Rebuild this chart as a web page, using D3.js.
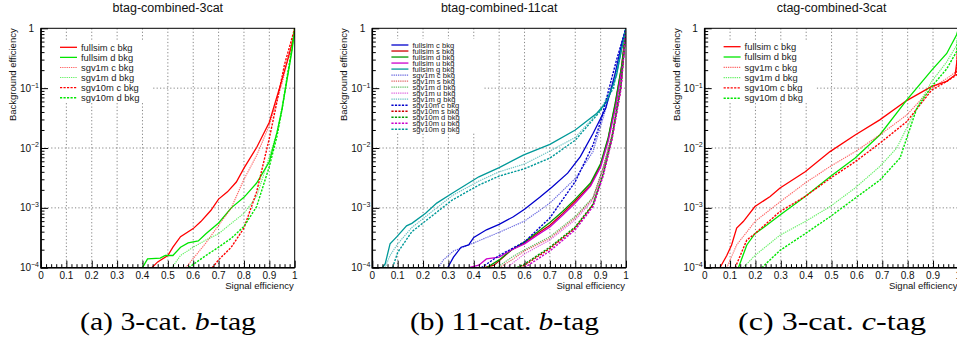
<!DOCTYPE html>
<html>
<head>
<meta charset="utf-8">
<script src="https://cdn.jsdelivr.net/npm/d3@7"></script>
<style>
  body { margin: 0; background: #fff; }
  svg { display: block; }
</style>
</head>
<body>
<div id="chart"></div>
<script>
// ---- axis ticks ----
const xMajor = [0, 0.1, 0.2, 0.3, 0.4, 0.5, 0.6, 0.7, 0.8, 0.9, 1];
const xTickLabels = ["0", "0.1", "0.2", "0.3", "0.4", "0.5", "0.6", "0.7", "0.8", "0.9", "1"];
const yMajor = [1e-4, 1e-3, 1e-2, 1e-1, 1];
const yTickExp = ["\u22124", "\u22123", "\u22122", "\u22121", null];

// ---- legend labels ----
const labels3 = ["fullsim c bkg", "fullsim d bkg", "sgv1m c bkg", "sgv1m d bkg", "sgv10m c bkg", "sgv10m d bkg"];
const labels11 = ["fullsim c bkg", "fullsim s bkg", "fullsim d bkg", "fullsim u bkg", "fullsim g bkg",
  "sgv1m c bkg", "sgv1m s bkg", "sgv1m d bkg", "sgv1m u bkg", "sgv1m g bkg",
  "sgv10m c bkg", "sgv10m s bkg", "sgv10m d bkg", "sgv10m u bkg", "sgv10m g bkg"];

// ---- (a) btag-combined-3cat : [signal eff, background eff] ----
const b3FullsimC = [[0.437,1e-4],[0.46,1.25e-4],[0.5,1.6e-4],[0.52,2.2e-4],[0.55,3.3e-4],[0.6,4.5e-4],[0.63,5.9e-4],[0.67,9.1e-4],[0.70,1.4e-3],[0.735,1.85e-3],[0.77,2.7e-3],[0.80,4.6e-3],[0.85,1.02e-2],[0.9,2.7e-2],[0.94,0.1],[0.97,0.275],[0.997,0.72],[1,1]];
const b3FullsimD = [[0.40,1e-4],[0.42,1.4e-4],[0.47,1.45e-4],[0.49,1.6e-4],[0.52,1.6e-4],[0.55,2.2e-4],[0.58,2.6e-4],[0.62,2.8e-4],[0.65,3.7e-4],[0.7,5.6e-4],[0.75,1.0e-3],[0.8,1.5e-3],[0.85,2.6e-3],[0.9,5.9e-3],[0.93,1.8e-2],[0.95,4.4e-2],[0.97,0.14],[0.99,0.44],[1,1]];
const b3Sgv1mC = [[0.57,1e-4],[0.61,1.6e-4],[0.65,2.6e-4],[0.7,5.1e-4],[0.75,1.0e-3],[0.8,3.0e-3],[0.85,7.5e-3],[0.9,2.4e-2],[0.95,0.12],[0.98,0.4],[1,1]];
const b3Sgv1mD = [[0.516,1e-4],[0.55,1.6e-4],[0.6,2.2e-4],[0.65,2.9e-4],[0.7,3.7e-4],[0.75,5.5e-4],[0.8,8.1e-4],[0.85,1.55e-3],[0.9,7.1e-3],[0.93,1.8e-2],[0.95,4.9e-2],[0.98,0.25],[1,1]];
const b3Sgv10mC = [[0.675,1e-4],[0.7,1.35e-4],[0.75,2.2e-4],[0.8,4.6e-4],[0.85,1.85e-3],[0.9,1.45e-2],[0.93,5.9e-2],[0.96,0.25],[0.99,0.7],[1,1]];
const b3Sgv10mD = [[0.582,1e-4],[0.65,1.6e-4],[0.7,2.2e-4],[0.75,3.1e-4],[0.8,4.9e-4],[0.85,1.05e-3],[0.9,4.9e-3],[0.93,1.55e-2],[0.95,4.4e-2],[0.97,0.155],[0.99,0.5],[1,1]];

// ---- (b) btag-combined-11cat ----
const b11FullsimC = [[0.297,1e-4],[0.32,1.5e-4],[0.35,2.2e-4],[0.38,2.4e-4],[0.40,3.2e-4],[0.45,4.3e-4],[0.5,5.3e-4],[0.556,7.1e-4],[0.6,9.5e-4],[0.66,1.5e-3],[0.71,2.25e-3],[0.77,3.8e-3],[0.82,7.2e-3],[0.87,1.75e-2],[0.92,4.6e-2],[0.955,0.16],[0.985,0.6],[1,1]];
const b11FullsimS = [[0.44,1e-4],[0.48,1.1e-4],[0.5,1.3e-4],[0.53,1.7e-4],[0.55,2.0e-4],[0.6,2.6e-4],[0.65,3.7e-4],[0.7,5.1e-4],[0.75,8e-4],[0.8,1.3e-3],[0.86,2.4e-3],[0.9,5.2e-3],[0.93,1.45e-2],[0.957,5.2e-2],[0.983,0.23],[1,1]];
const b11FullsimD = [[0.45,1e-4],[0.5,1.35e-4],[0.55,2.0e-4],[0.6,2.7e-4],[0.65,3.9e-4],[0.7,5.7e-4],[0.75,8.7e-4],[0.8,1.4e-3],[0.86,2.6e-3],[0.9,5.5e-3],[0.93,1.5e-2],[0.957,5.5e-2],[0.983,0.24],[1,1]];
const b11FullsimU = [[0.38,1e-4],[0.42,1.1e-4],[0.45,1.4e-4],[0.5,1.5e-4],[0.55,2.0e-4],[0.6,2.5e-4],[0.65,3.5e-4],[0.7,4.8e-4],[0.75,7.5e-4],[0.8,1.2e-3],[0.86,2.3e-3],[0.9,4.8e-3],[0.93,1.3e-2],[0.96,5e-2],[0.99,0.3],[1,1]];
const b11FullsimG = [[0.04,1e-4],[0.051,1.17e-4],[0.07,2.5e-4],[0.097,3.3e-4],[0.135,5.0e-4],[0.156,5.5e-4],[0.21,8.1e-4],[0.254,1.2e-3],[0.315,1.75e-3],[0.42,3.3e-3],[0.5,4.7e-3],[0.595,7.6e-3],[0.7,1.15e-2],[0.8,2.0e-2],[0.885,3.8e-2],[0.924,5.9e-2],[0.963,0.166],[0.996,0.9],[1,1]];
const b11Sgv1mC = [[0.26,1e-4],[0.28,1.35e-4],[0.32,1.9e-4],[0.40,2.6e-4],[0.5,3.9e-4],[0.6,6e-4],[0.7,1.2e-3],[0.8,3.1e-3],[0.87,8.7e-3],[0.91,3.2e-2],[0.95,0.13],[0.98,0.4],[1,1]];
const b11Sgv1mS = [[0.5,1e-4],[0.55,1.35e-4],[0.6,1.9e-4],[0.7,3.1e-4],[0.8,6.8e-4],[0.87,1.45e-3],[0.91,4.6e-3],[0.945,1.65e-2],[0.98,0.11],[1,1]];
const b11Sgv1mD = [[0.49,1e-4],[0.55,1.5e-4],[0.6,2.0e-4],[0.7,3.3e-4],[0.8,7.2e-4],[0.87,1.5e-3],[0.91,4.8e-3],[0.945,1.7e-2],[0.98,0.12],[1,1]];
const b11Sgv1mU = [[0.53,1e-4],[0.6,1.7e-4],[0.7,2.9e-4],[0.8,6.3e-4],[0.87,1.35e-3],[0.91,4.4e-3],[0.945,1.6e-2],[0.98,0.1],[1,1]];
const b11Sgv1mG = [[0.05,1e-4],[0.07,1.6e-4],[0.1,2.5e-4],[0.156,4.7e-4],[0.2,6.6e-4],[0.315,1.6e-3],[0.42,2.8e-3],[0.5,4.0e-3],[0.6,5.4e-3],[0.7,8.9e-3],[0.8,1.5e-2],[0.9,4.4e-2],[0.95,0.112],[1,1]];
const b11Sgv10mC = [[0.43,1e-4],[0.5,1.6e-4],[0.6,2.7e-4],[0.7,6.8e-4],[0.8,2.75e-3],[0.87,1.12e-2],[0.9,2.75e-2],[0.93,8.7e-2],[0.963,0.3],[1,1]];
const b11Sgv10mS = [[0.58,1e-4],[0.6,1.1e-4],[0.7,2.1e-4],[0.8,4.6e-4],[0.87,1.12e-3],[0.91,3.55e-3],[0.945,1.45e-2],[0.98,0.1],[1,1]];
const b11Sgv10mD = [[0.57,1e-4],[0.6,1.15e-4],[0.7,2.2e-4],[0.8,4.8e-4],[0.87,1.15e-3],[0.91,3.7e-3],[0.945,1.5e-2],[0.98,0.11],[1,1]];
const b11Sgv10mU = [[0.6,1e-4],[0.7,1.9e-4],[0.8,4.3e-4],[0.87,1.05e-3],[0.91,3.4e-3],[0.945,1.4e-2],[0.98,0.095],[1,1]];
const b11Sgv10mG = [[0.08,1e-4],[0.1,1.8e-4],[0.156,4.0e-4],[0.2,5.6e-4],[0.315,1.35e-3],[0.42,2.4e-3],[0.5,3.4e-3],[0.6,4.5e-3],[0.7,6.8e-3],[0.8,1.35e-2],[0.9,4.2e-2],[0.95,0.1],[1,1]];

// ---- (c) ctag-combined-3cat ----
const c3FullsimC = [[0.06,1e-4],[0.087,1.6e-4],[0.106,2.4e-4],[0.126,4.6e-4],[0.152,5.9e-4],[0.198,1.05e-3],[0.258,1.55e-3],[0.297,2.15e-3],[0.396,4.0e-3],[0.494,8.7e-3],[0.593,1.65e-2],[0.69,2.95e-2],[0.796,6.2e-2],[0.895,0.107],[0.954,0.13],[0.987,0.166],[0.995,0.3],[1,1]];
const c3FullsimD = [[0.133,1e-4],[0.166,2.4e-4],[0.198,3.7e-4],[0.244,5.1e-4],[0.297,7.6e-4],[0.396,1.55e-3],[0.494,3.3e-3],[0.593,6.8e-3],[0.69,1.65e-2],[0.796,6.3e-2],[0.895,0.2],[0.954,0.38],[0.993,0.78],[1,1]];
const c3Sgv1mC = [[0.087,1e-4],[0.126,2.4e-4],[0.198,5.9e-4],[0.297,1.26e-3],[0.396,2.6e-3],[0.494,4.9e-3],[0.593,8.7e-3],[0.69,1.65e-2],[0.796,3.55e-2],[0.895,0.1],[0.954,0.145],[0.993,0.19],[1,1]];
const c3Sgv1mD = [[0.152,1e-4],[0.198,1.6e-4],[0.297,3.5e-4],[0.396,5.9e-4],[0.494,1.05e-3],[0.593,2.15e-3],[0.69,4.9e-3],[0.757,1.0e-2],[0.796,2.15e-2],[0.849,5.9e-2],[0.895,0.13],[0.954,0.275],[0.993,0.52],[1,1]];
const c3Sgv10mC = [[0.12,1e-4],[0.166,2.9e-4],[0.198,3.7e-4],[0.297,8.7e-4],[0.396,1.55e-3],[0.494,3.1e-3],[0.593,5.9e-3],[0.69,1.2e-2],[0.796,2.75e-2],[0.895,9.3e-2],[0.954,0.13],[0.993,0.166],[1,1]];
const c3Sgv10mD = [[0.225,1e-4],[0.297,1.95e-4],[0.396,3.7e-4],[0.494,7.1e-4],[0.593,1.45e-3],[0.69,2.9e-3],[0.77,6.8e-3],[0.796,1.45e-2],[0.836,4.6e-2],[0.895,0.107],[0.954,0.21],[0.993,0.41],[1,1]];

// ---- line styles ----
function solid(c) { return { color: c, dash: null, width: 1.3, opacity: 1 }; }
function dotted(c) { return { color: c, dash: "1.3,0.9", width: 1.15, opacity: 0.6 }; }
function dashed(c) { return { color: c, dash: "2.2,1.3", width: 1.4, opacity: 1 }; }

const RED = "#ff0000", GREEN = "#00e600";
const B = "#0000cc", R = "#cc0000", G = "#009900", M = "#cc00cc", T = "#009999";

const styles3 = [solid(RED), solid(GREEN), dotted(RED), dotted(GREEN), dashed(RED), dashed(GREEN)];
const styles11 = [solid(B), solid(R), solid(G), solid(M), solid(T),
  dotted(B), dotted(R), dotted(G), dotted(M), dotted(T),
  dashed(B), dashed(R), dashed(G), dashed(M), dashed(T)];

const panels = [
  { left: 41, title: "btag-combined-3cat", labels: labels3, styles: styles3,
    series: [b3FullsimC, b3FullsimD, b3Sgv1mC, b3Sgv1mD, b3Sgv10mC, b3Sgv10mD],
    leg: { x0: 46, x1: 153, y0: 40, y1: 102, lx: 19, ly: 47.3, dy: 10.08, font: 9.4 } },
  { left: 372.3, title: "btag-combined-11cat", labels: labels11, styles: styles11,
    series: [b11FullsimC, b11FullsimS, b11FullsimD, b11FullsimU, b11FullsimG,
             b11Sgv1mC, b11Sgv1mS, b11Sgv1mD, b11Sgv1mU, b11Sgv1mG,
             b11Sgv10mC, b11Sgv10mS, b11Sgv10mD, b11Sgv10mU, b11Sgv10mG],
    leg: { x0: 377, x1: 483, y0: 39, y1: 133, lx: 19.4, ly: 45, dy: 6.02, font: 7.6 } },
  { left: 704.7, title: "ctag-combined-3cat", labels: labels3, styles: styles3,
    series: [c3FullsimC, c3FullsimD, c3Sgv1mC, c3Sgv1mD, c3Sgv10mC, c3Sgv10mD],
    leg: { x0: 710, x1: 815, y0: 40, y1: 102, lx: 18.6, ly: 46.7, dy: 10.3, font: 9.4 } }
];

const captions = [
  { x: 80, len: 176, pre: "(a) 3-cat. ", it: "b", post: "-tag" },
  { x: 410, len: 189, pre: "(b) 11-cat. ", it: "b", post: "-tag" },
  { x: 738, len: 188, pre: "(c) 3-cat. ", it: "c", post: "-tag" }
];

const W = 957, H = 342;
const plotTop = 28.3, plotH = 239.4, plotW = 253.7;
const fontFamily = "'Liberation Sans', Arial, Helvetica, sans-serif";

const svg = d3.select("#chart").append("svg")
  .attr("width", W).attr("height", H)
  .style("font-family", fontFamily);

panels.forEach((p, pi) => {
  const x = d3.scaleLinear().domain([0, 1]).range([0, plotW]);
  const y = d3.scaleLog().domain([1e-4, 1]).range([plotH, 0]);

  const g = svg.append("g").attr("transform", `translate(${p.left},${plotTop})`);

  svg.append("defs").append("clipPath").attr("id", "clip" + pi)
    .append("rect").attr("x", 0).attr("y", 0).attr("width", plotW).attr("height", plotH);

  // grid
  const grid = g.append("g").attr("stroke", "#666").attr("stroke-width", 0.8)
    .attr("stroke-dasharray", "1.2,2.2");
  grid.selectAll(".gx").data(xMajor.slice(1, -1)).enter().append("line")
    .attr("x1", d => x(d)).attr("x2", d => x(d)).attr("y1", 0).attr("y2", plotH);
  grid.selectAll(".gy").data(yMajor.slice(1, -1)).enter().append("line")
    .attr("x1", 0).attr("x2", plotW).attr("y1", d => y(d)).attr("y2", d => y(d));

  // legend background hides the grid
  g.append("rect")
    .attr("x", p.leg.x0 - p.left).attr("y", p.leg.y0 - plotTop)
    .attr("width", p.leg.x1 - p.leg.x0).attr("height", p.leg.y1 - p.leg.y0)
    .attr("fill", "#fff");

  // curves
  const line = d3.line().x(d => x(d[0])).y(d => y(d[1]));
  const curves = g.append("g").attr("clip-path", `url(#clip${pi})`);
  p.series.forEach((s, i) => {
    const st = p.styles[i];
    curves.append("path").datum(s)
      .attr("d", line)
      .attr("fill", "none")
      .attr("stroke", st.color)
      .attr("stroke-opacity", st.opacity)
      .attr("stroke-width", st.width)
      .attr("stroke-dasharray", st.dash);
  });

  // x axis ticks
  const xAxis = d3.axisBottom(x).tickValues(d3.range(0, 1.0001, 0.02))
    .tickSize(-3.5).tickFormat("");
  const gx = g.append("g").attr("transform", `translate(0,${plotH})`).call(xAxis);
  gx.selectAll(".tick line").filter((d, i) => i % 5 === 0).attr("y2", -7);
  gx.select(".domain").remove();
  g.append("g").selectAll("text").data(xMajor).enter().append("text")
    .attr("x", d => x(d)).attr("y", plotH + 11)
    .attr("text-anchor", "middle").attr("font-size", 10).attr("fill", "#111")
    .text((d, i) => xTickLabels[i]);

  // y axis ticks (log)
  const minor = [];
  for (let e = -4; e < 0; e++) for (let m = 2; m <= 9; m++) minor.push(m * Math.pow(10, e));
  const yAxis = d3.axisLeft(y).tickValues(yMajor.concat(minor)).tickSize(-3.5).tickFormat("");
  const gy = g.append("g").call(yAxis);
  gy.selectAll(".tick line").filter(d => yMajor.includes(d)).attr("x2", 7);
  gy.select(".domain").remove();
  gy.selectAll(".tick line").attr("stroke", "#000");
  gx.selectAll(".tick line").attr("stroke", "#000");

  const yl = g.append("g").attr("font-size", 10).attr("fill", "#111");
  yMajor.forEach((v, i) => {
    const t = yl.append("text").attr("text-anchor", "end").attr("y", y(v) + 3.6);
    if (yTickExp[i] === null) {
      t.attr("x", -7).text("1");
    } else {
      t.attr("x", -2);
      t.append("tspan").text("10");
      t.append("tspan").attr("dy", -4.2).attr("font-size", 7).text(yTickExp[i]);
    }
  });

  // frame
  g.append("rect").attr("width", plotW).attr("height", plotH)
    .attr("fill", "none").attr("stroke", "#000").attr("stroke-width", 1);
  g.append("path").attr("d", `M0,0V${plotH}H${plotW}`)
    .attr("fill", "none").attr("stroke", "#000").attr("stroke-width", 1.6);

  // axis titles
  g.append("text").attr("x", plotW - 1).attr("y", plotH + 21)
    .attr("text-anchor", "end").attr("font-size", 9.5).attr("fill", "#111")
    .text("Signal efficiency");
  g.append("text").attr("transform", `translate(-25,0) rotate(-90)`)
    .attr("text-anchor", "end").attr("font-size", 9.5).attr("fill", "#111")
    .text("Background efficiency");

  // title
  svg.append("text").attr("x", p.left + plotW / 2).attr("y", 11.5)
    .attr("text-anchor", "middle").attr("font-size", 12.5).attr("fill", "#111")
    .text(p.title);

  // legend
  const lg = g.append("g").attr("transform", `translate(${p.leg.x0 - p.left},${p.leg.ly - plotTop})`);
  p.labels.forEach((lab, i) => {
    const st = p.styles[i];
    const ry = i * p.leg.dy;
    lg.append("line").attr("x1", p.leg.lx - 5).attr("x2", p.leg.lx + 12)
      .attr("y1", ry).attr("y2", ry)
      .attr("stroke", st.color).attr("stroke-opacity", st.opacity)
      .attr("stroke-width", st.width).attr("stroke-dasharray", st.dash);
    lg.append("text").attr("x", p.leg.lx + 16).attr("y", ry + p.leg.font * 0.35)
      .attr("font-size", p.leg.font).attr("fill", "#222").text(lab);
  });
});

// captions
captions.forEach(c => {
  const t = svg.append("text").attr("x", c.x).attr("y", 330)
    .attr("font-family", "'Liberation Serif', 'Times New Roman', serif")
    .attr("font-size", 25).attr("fill", "#000")
    .attr("textLength", c.len).attr("lengthAdjust", "spacingAndGlyphs");
  t.append("tspan").text(c.pre);
  t.append("tspan").attr("font-style", "italic").text(c.it);
  t.append("tspan").text(c.post);
});
</script>
</body>
</html>
